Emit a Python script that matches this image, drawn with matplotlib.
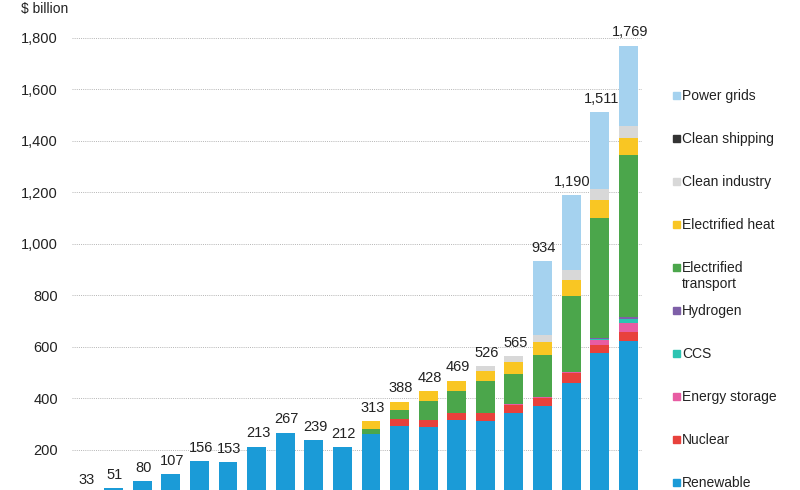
import matplotlib
matplotlib.use("Agg")
import matplotlib.pyplot as plt
import numpy as np
from matplotlib.patches import Rectangle

plt.rcParams['font.family'] = ['Liberation Sans', 'DejaVu Sans']

# ---- data (bottom to top stacking order) ----
totals = [33, 51, 80, 107, 156, 153, 213, 267, 239, 212, 313, 388, 428, 469, 526, 565, 934, 1190, 1511, 1769]
total_labels = ["33", "51", "80", "107", "156", "153", "213", "267", "239", "212", "313", "388",
                "428", "469", "526", "565", "934", "1,190", "1,511", "1,769"]
renewable = [33, 51, 80, 107, 156, 153, 213, 267, 239, 212, 263, 293, 289, 316, 314, 345, 371, 461, 577, 624]
nuclear = [0, 0, 0, 0, 0, 0, 0, 0, 0, 0, 0, 27, 26, 29, 31, 30, 32, 37, 31, 33]
energy_storage = [0, 0, 0, 0, 0, 0, 0, 0, 0, 0, 0, 0, 0, 0, 0, 2, 3, 5, 20, 35]
ccs = [0, 0, 0, 0, 0, 0, 0, 0, 0, 0, 0, 0, 0, 0, 0, 0, 0, 0, 2, 15]
hydrogen = [0, 0, 0, 0, 0, 0, 0, 0, 0, 0, 0, 0, 0, 0, 0, 0, 0, 0, 5, 8]
electrified_transport = [0, 0, 0, 0, 0, 0, 0, 0, 0, 0, 20, 36, 76, 85, 123, 118, 163, 296, 464, 631]
electrified_heat = [0, 0, 0, 0, 0, 0, 0, 0, 0, 0, 30, 32, 37, 39, 40, 45, 48, 61, 71, 63]
clean_industry = [0, 0, 0, 0, 0, 0, 0, 0, 0, 0, 0, 0, 0, 0, 18, 25, 30, 40, 41, 47]
clean_shipping = [0, 0, 0, 0, 0, 0, 0, 0, 0, 0, 0, 0, 0, 0, 0, 0, 0, 0, 0, 0]
power_grids = [0, 0, 0, 0, 0, 0, 0, 0, 0, 0, 0, 0, 0, 0, 0, 0, 287, 290, 300, 313]

series = [
    ("Renewable", renewable, "#1b9bd7"),
    ("Nuclear", nuclear, "#e8413c"),
    ("Energy storage", energy_storage, "#e85ca3"),
    ("CCS", ccs, "#2cc4b2"),
    ("Hydrogen", hydrogen, "#7e5fa8"),
    ("Electrified\ntransport", electrified_transport, "#4ba64b"),
    ("Electrified heat", electrified_heat, "#f9c623"),
    ("Clean industry", clean_industry, "#d8d8d8"),
    ("Clean shipping", clean_shipping, "#333333"),
    ("Power grids", power_grids, "#a5d2ef"),
]

yticks = [200, 400, 600, 800, 1000, 1200, 1400, 1600, 1800]
ytick_labels = ["200", "400", "600", "800", "1,000", "1,200", "1,400", "1,600", "1,800"]

# ---- figure ----
W, H = 800, 490
fig = plt.figure(figsize=(W / 100, H / 100), dpi=100)
ax = fig.add_axes([72 / W, 0, (642 - 72) / W, 1])

x = np.arange(len(totals))
bottom = np.zeros(len(totals))
for name, vals, col in series:
    v = np.array(vals, dtype=float)
    ax.bar(x, v, bottom=bottom, width=0.66, color=col, zorder=2, linewidth=0)
    bottom += v

for xi, t, lab in zip(x, totals, total_labels):
    ax.annotate(lab, (xi, t), xytext=(1, 4.5), textcoords="offset points",
                ha="center", va="bottom", fontsize=10.5, color="#222222",
                annotation_clip=False)

ax.set_xlim(-0.455, 19.48)
ax.set_ylim(44.6, 1946)
ax.set_yticks(yticks)
ax.set_yticklabels(ytick_labels, fontsize=10.5, color="#222222")
ax.tick_params(axis="y", length=0, pad=10)
ax.set_xticks([])
ax.yaxis.grid(True, linestyle=(0, (1, 1.2)), color="#b5b5b5", linewidth=0.7, zorder=0)
ax.set_axisbelow(True)
for s in ax.spines.values():
    s.set_visible(False)

fig.text(21 / W, 1 - 9 / H, "$ billion", fontsize=10, color="#222222", va="center", ha="left")

# ---- legend (manual, top to bottom) ----
leg_items = list(reversed(series))
for i, (name, vals, col) in enumerate(leg_items):
    yc = 95.7 + 43.0 * i
    fig.patches.append(Rectangle((673 / W, 1 - (yc + 3.5) / H), 7 / W, 7 / H,
                                 transform=fig.transFigure, color=col, figure=fig))
    fig.text(682 / W, 1 - (yc - 6.5) / H, name, fontsize=10, color="#222222",
             va="top", ha="left", linespacing=1.2)

fig.savefig("out.png", dpi=100)
